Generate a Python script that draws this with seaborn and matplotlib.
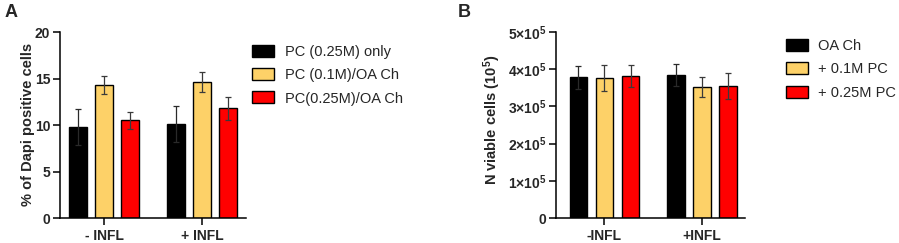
import numpy as np
import pandas as pd
import matplotlib
matplotlib.use('Agg')
import matplotlib.pyplot as plt
from matplotlib.ticker import FuncFormatter
import seaborn as sns

# ── data ──────────────────────────────────────────────
groups_a = ['- INFL', '+ INFL']
series_a = ['PC (0.25M) only', 'PC (0.1M)/OA Ch', 'PC(0.25M)/OA Ch']
a_pc025_only = [9.8, 10.1]
a_pc01_oa = [14.3, 14.6]
a_pc025_oa = [10.5, 11.8]
a_pc025_only_err = [1.9, 1.9]
a_pc01_oa_err = [1.0, 1.1]
a_pc025_oa_err = [0.9, 1.25]

groups_b = ['-INFL', '+INFL']
series_b = ['OA Ch', '+ 0.1M PC', '+ 0.25M PC']
b_oa = [378000, 385000]
b_pc01 = [376000, 352000]
b_pc025 = [382000, 354000]
b_oa_err = [30000, 29000]
b_pc01_err = [35000, 27000]
b_pc025_err = [30000, 35000]

colors = ['#000000', '#FDD168', '#FF0000']
err_colors = ['#2a2a2a', '#3a3a3a', '#3a3a3a']

sns.set_style('ticks')
plt.rcParams['font.family'] = ['Liberation Sans', 'DejaVu Sans']
plt.rcParams['mathtext.fontset'] = 'custom'
plt.rcParams['mathtext.rm'] = 'Liberation Sans'
plt.rcParams['mathtext.bf'] = 'Liberation Sans:bold'


def long_table(groups, series, vals):
    rows = []
    for s, v in zip(series, vals):
        for g, x in zip(groups, v):
            rows.append({'group': g, 'series': s, 'value': x})
    return pd.DataFrame(rows)


def draw_panel(ax, groups, series, vals, errs):
    df = long_table(groups, series, vals)
    sns.barplot(data=df, x='group', y='value', hue='series', order=groups,
                hue_order=series, palette=colors, errorbar=None, gap=0.33,
                edgecolor='black', linewidth=1.0, saturation=1, ax=ax)
    for cont, err, ec in zip(ax.containers, errs, err_colors):
        xs = [b.get_x() + b.get_width() / 2 for b in cont]
        hs = [b.get_height() for b in cont]
        ax.errorbar(xs, hs, yerr=err, fmt='none', ecolor=ec,
                    elinewidth=0.9, capsize=2.5, capthick=0.9, zorder=5)
    sns.despine(ax=ax)
    for sp in ['left', 'bottom']:
        ax.spines[sp].set_linewidth(1.1)
        ax.spines[sp].set_color('black')
    ax.tick_params(axis='both', length=5, width=1.1, color='black',
                   labelsize=10)
    ax.tick_params(axis='y', pad=2)
    ax.tick_params(axis='x', pad=3)
    for lab in ax.get_xticklabels() + ax.get_yticklabels():
        lab.set_fontweight('bold')
    ax.set_xlabel('')


def legend_at(ax, x, y, pad):
    ax.legend(loc='upper left', bbox_to_anchor=(x, y), frameon=False,
              fontsize=10.5, handlelength=1.5, handleheight=0.89,
              handletextpad=pad, labelspacing=0.63, borderpad=0,
              borderaxespad=0)


fig = plt.figure(figsize=(8.99, 2.43), dpi=100)
ax1 = fig.add_axes([60 / 899, 1 - 218 / 243, 186 / 899, 186 / 243])
ax2 = fig.add_axes([556 / 899, 1 - 218 / 243, 189 / 899, 186 / 243])

# ── panel A ──
draw_panel(ax1, groups_a, series_a,
           [a_pc025_only, a_pc01_oa, a_pc025_oa],
           [a_pc025_only_err, a_pc01_oa_err, a_pc025_oa_err])
ax1.set_ylim(0, 20)
ax1.set_yticks([0, 5, 10, 15, 20])
ax1.set_xlim(-0.45, 1.45)
for lab in ax1.get_yticklabels():
    lab.set_fontweight('bold')
ax1.set_ylabel('% of Dapi positive cells', fontsize=10.5, fontweight='bold')
ax1.yaxis.set_label_coords(-0.135, 0.505)
legend_at(ax1, 1.032, 0.93, 0.75)

# ── panel B ──
draw_panel(ax2, groups_b, series_b,
           [b_oa, b_pc01, b_pc025],
           [b_oa_err, b_pc01_err, b_pc025_err])
ax2.set_ylim(0, 500000)
ax2.set_yticks([0, 100000, 200000, 300000, 400000, 500000])
ax2.set_xlim(-0.497, 1.44)


def sci_fmt(v, pos):
    if v == 0:
        return '0'
    return r'$\mathbf{%d{\times}10^5}$' % round(v / 1e5)


ax2.yaxis.set_major_formatter(FuncFormatter(sci_fmt))
for lab in ax2.get_yticklabels():
    lab.set_fontweight('bold')
ax2.set_ylabel(r'N viable cells (10$\mathbf{^5}$)', fontsize=10.5,
               fontweight='bold')
ax2.yaxis.set_label_coords(-0.28, 0.53)
legend_at(ax2, 1.217, 0.962, 0.7)

fig.text(5 / 899, 1 - 17 / 243, 'A', fontsize=13, fontweight='bold',
         va='baseline')
fig.text(458 / 899, 1 - 17 / 243, 'B', fontsize=13, fontweight='bold',
         va='baseline')

fig.savefig('out.png', dpi=100)
